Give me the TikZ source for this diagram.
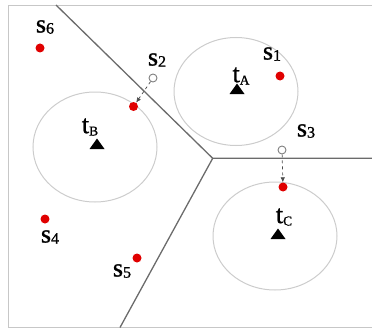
\documentclass[tikz,border=0pt]{standalone}
\usepackage{fontspec}
\setmainfont{Liberation Serif}
\newfontfamily\labfamily{Liberation Serif}[FakeBold=1.2]
\usetikzlibrary{arrows.meta}
\newcommand{\bigfont}{\labfamily\fontsize{26}{28}\selectfont}
\newcommand{\digfont}{\fontsize{16}{17}\selectfont}
\newcommand{\letfont}{\fontsize{13.5}{14}\selectfont}
\begin{document}
\begin{tikzpicture}[x=1pt,y=-1pt,
  frame/.style={draw=black!22,line width=0.9pt},
  vline/.style={draw=black!58,line width=1.3pt},
  zone/.style={draw=black!20,line width=1pt},
  sensor/.style={circle,fill=red!88!black,inner sep=0pt,minimum size=9pt},
  moved/.style={circle,draw=black!50,line width=0.9pt,fill=white,inner sep=0pt,minimum size=8pt},
  lab/.style={font=\bigfont,inner sep=0pt},
  move/.style={draw=black!70,dashed,line width=0.7pt,-{Latex[length=5pt,width=4.5pt]}}
]
\useasboundingbox (0,0) rectangle (372,329);
\draw[frame] (372,5) -- (8,5) -- (8,327.5) -- (372,327.5);
% Voronoi lines
\coordinate (J) at (212.7,158.3);
\coordinate (T) at (56,5);
\coordinate (R) at (372,158.3);
\coordinate (Bt) at (120,327.5);
\draw[vline] (T) -- (J) -- (R);
\draw[vline] (J) -- (Bt);
% zones
\draw[zone] (236,91.5) ellipse (62 and 54);
\draw[zone] (95,147) ellipse (62 and 55);
\draw[zone] (275,236) ellipse (62 and 54);
% targets
\coordinate (tA) at (237,89);
\coordinate (tB) at (97,144);
\coordinate (tC) at (278,234);
\foreach \t in {tA,tB,tC}{
  \fill (\t) ++(-7.5,5) -- ++(15,0) -- ++(-7.5,-10.5) -- cycle;
}
\node[lab] (ltA) at (241,76) {t\raisebox{-0.2ex}{\letfont A}};
\node[lab] (ltB) at (90,127) {t\raisebox{-0.2ex}{\letfont B}};
\node[lab] (ltC) at (284,217) {t\raisebox{-0.2ex}{\letfont C}};
% sensors
\node[sensor] (s1) at (280,76) {};
\node[sensor] (s2) at (133.5,106.5) {};
\node[moved] (s2o) at (153,78) {};
\node[moved] (s3o) at (282,150) {};
\node[sensor] (s3) at (283,187) {};
\node[sensor] (s4) at (45,219) {};
\node[sensor] (s5) at (137,258) {};
\node[sensor] (s6) at (40,48) {};
\draw[move] (s2o) -- (s2);
\draw[move] (s3o) -- (s3);
% labels
\newcommand{\slab}[1]{s\raisebox{-0.1ex}{\digfont #1}}
\node[lab] (l1) at (272,54) {\slab{1}};
\node[lab] (l2) at (157,60) {\slab{2}};
\node[lab] (l3) at (306,131) {\slab{3}};
\node[lab] (l4) at (50,237) {\slab{4}};
\node[lab] (l5) at (122,271) {\slab{5}};
\node[lab] (l6) at (45,27) {\slab{6}};
\end{tikzpicture}
\end{document}
